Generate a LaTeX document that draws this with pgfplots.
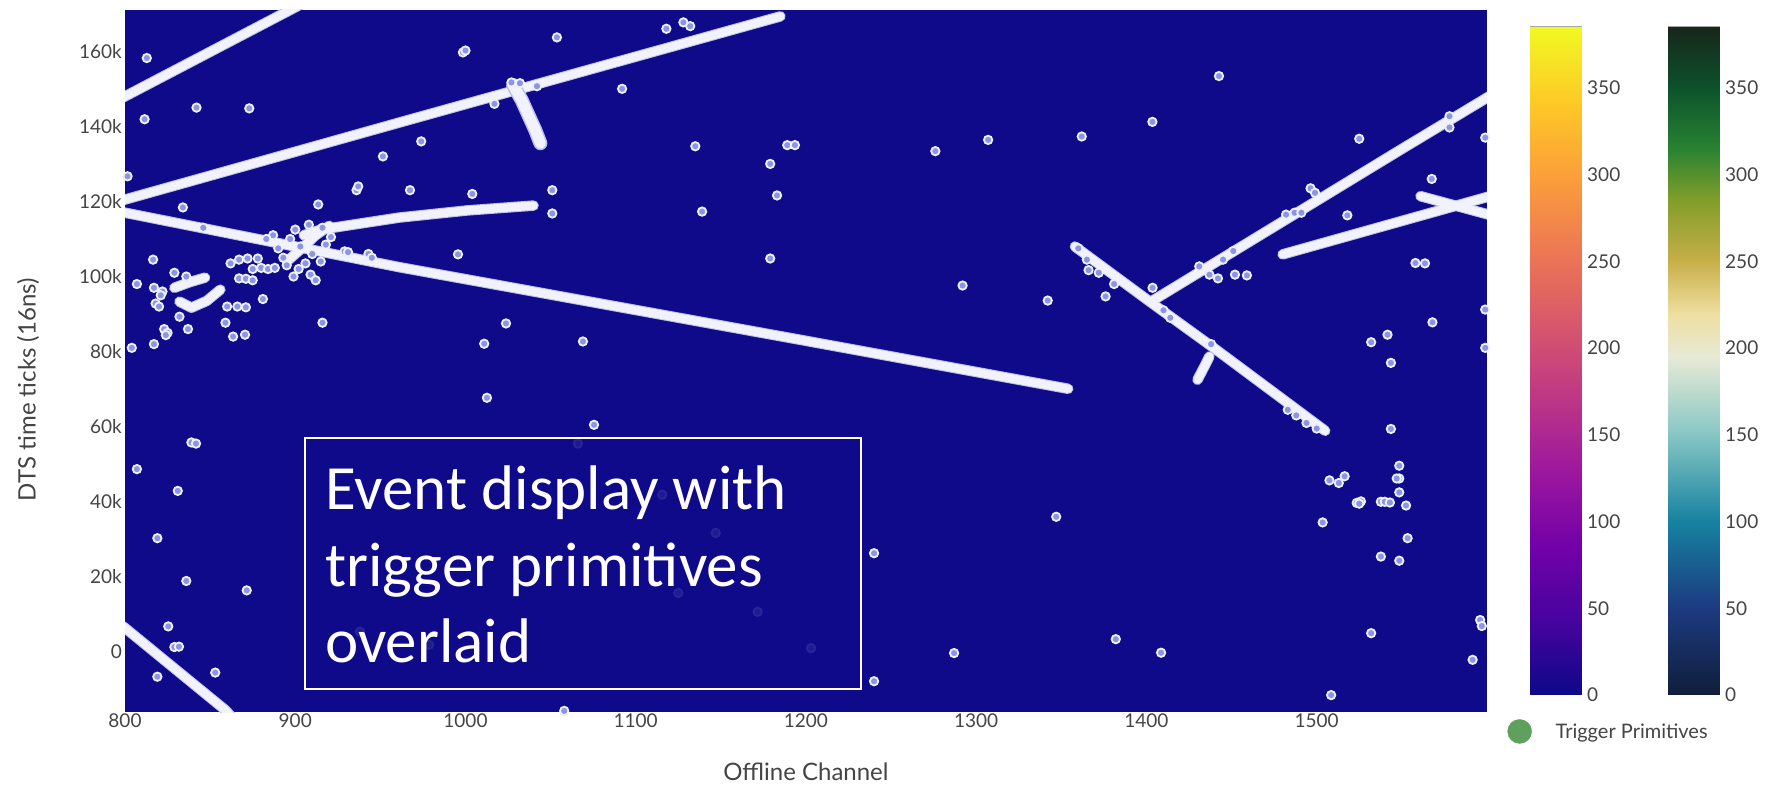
\documentclass[border=0pt]{standalone}
\usepackage{fontspec}
\setmainfont{Lato}
\newfontfamily\boxfont{Carlito}
\usepackage{pgfplots}
\pgfplotsset{compat=1.18}

\definecolor{bgblue}{RGB}{14,10,138}
\definecolor{trk}{RGB}{242,243,250}
\definecolor{trkedge}{RGB}{185,190,238}
\definecolor{tpfill}{RGB}{140,148,230}
\definecolor{tpring}{RGB}{238,240,250}
\definecolor{labgray}{RGB}{68,68,68}
\definecolor{legendgreen}{RGB}{95,160,95}

\pgfplotsset{
  colormap={plasma}{rgb255=(13,8,135) rgb255=(70,3,159) rgb255=(114,1,168) rgb255=(156,23,158) rgb255=(189,55,134) rgb255=(216,87,107) rgb255=(237,121,83) rgb255=(251,159,58) rgb255=(253,202,38) rgb255=(240,249,33)},
  colormap={delta}{rgb255(0pt)=(16,30,58) rgb255(50pt)=(28,58,128) rgb255(100pt)=(22,130,160) rgb255(150pt)=(135,198,196) rgb255(195pt)=(232,234,214) rgb255(220pt)=(238,222,160) rgb255(250pt)=(200,175,72) rgb255(285pt)=(130,158,42) rgb255(315pt)=(40,130,50) rgb255(350pt)=(12,82,44) rgb255(385pt)=(24,38,26)},
  cbar/.style={
    at={(#1,89pt)}, anchor=south west, width=51pt, height=668pt, scale only axis,
    xmin=0, xmax=1, ymin=0, ymax=385,
    xtick=\empty, ytick={0,50,...,350},
    yticklabels={0,50,100,150,200,250,300,350},
    yticklabel pos=right, major tick length=0pt,
    yticklabel style={anchor=west, inner sep=0pt, xshift=6pt,
      font=\fontsize{19}{21}\selectfont, text=labgray},
    axis line style={draw=gray!70, line width=1pt},
    point meta min=0, point meta max=385,
  },
  track/.style={line width=#1, line cap=round, line join=round, forget plot},
  tp/.style={only marks, mark=*, mark size=4.2pt,
    mark options={draw=tpring, fill=tpfill, line width=1.8pt}},
}

% all reconstructed tracks, drawn with the style given as argument
\newcommand\drawtracks[1]{%
  \addplot[#1] coordinates {(795,146800) (905,172900)};
  \addplot[#1] coordinates {(795,119900) (800,120500) (961,141000) (1185,169300)};
  \addplot[#1] coordinates {(795,117400) (800,117000) (961,102500) (1196,83200) (1354,70100)};
  \addplot[#1] coordinates {(905,111000) (915,112500) (961,115700) (1001,117600) (1040,118900)};
  \addplot[#1] coordinates {(1358,108000) (1402,93300) (1441,80500) (1505,58900)};
  \addplot[#1] coordinates {(1403,93400) (1549,133700) (1605,149000)};
  \addplot[#1] coordinates {(1480,105900) (1605,121800)};
  \addplot[#1] coordinates {(1561,121400) (1605,116000)};
  \addplot[#1] coordinates {(795,8000) (800,6400) (859,-15500) (862,-17000)};
  \addplot[#1] coordinates {(829,97000) (838,98500) (847,99700)};
  \addplot[#1] coordinates {(832,93300) (839,91700) (848,93500) (856,96500)};
  \addplot[#1] coordinates {(1430,72500) (1434,76000) (1437,78700)};
  \addplot[#1] coordinates {(895,104000) (905,108000) (912,111000) (920,113500)};
}

\begin{document}
\begin{tikzpicture}
\useasboundingbox (0,0) rectangle (1771pt,784pt);

% ---- event display ----
\begin{axis}[
  at={(125pt,72pt)}, anchor=south west, width=1362pt, height=702pt, scale only axis,
  xmin=800, xmax=1600, ymin=-16000, ymax=171000,
  axis background/.style={fill=bgblue},
  axis line style={draw=none},
  major tick length=0pt,
  xtick={800,900,...,1500}, xticklabels={800,900,1000,1100,1200,1300,1400,1500},
  ytick={0,20000,...,160000}, yticklabels={0,20k,40k,60k,80k,100k,120k,140k,160k},
  scaled y ticks=false,
  tick label style={font=\fontsize{19}{21}\selectfont, text=labgray},
  xticklabel style={anchor=center, inner sep=0pt, yshift=-9pt},
  yticklabel style={anchor=east, inner sep=0pt, xshift=-3pt},
  xlabel={Offline Channel}, ylabel={DTS time ticks (16ns)},
  label style={font=\fontsize{24}{26}\selectfont, text=labgray},
  xlabel style={at={(axis description cs:0.5,-0.0855)}, anchor=center},
  ylabel style={at={(axis description cs:-0.0712,0.459)}, anchor=center},
  legend style={at={(axis description cs:1.0136,-0.0277)}, anchor=west, draw=none,
    fill=none, inner sep=2pt, font=\fontsize{20}{22}\selectfont, text=labgray,
    /tikz/every odd column/.append style={column sep=22pt}},
  legend cell align=left,
]
\addlegendimage{only marks, mark=*, mark size=12pt, legendgreen}
\addlegendentry{Trigger Primitives}

% tracks: halo first, then the bright core
\drawtracks{trkedge, track=10.5pt}
\drawtracks{trk, track=8.5pt}
\addplot[trkedge, track=14pt] coordinates {(1028,151000) (1033,147000) (1037,143000) (1041,139000) (1044,135500)};
\addplot[trk, track=11pt] coordinates {(1028,151000) (1033,147000) (1037,143000) (1041,139000) (1044,135500)};

% isolated trigger primitives
\addplot[tp, forget plot] coordinates {
 (812.8,158200) (811.5,141900) (842,145000) (873,144800) (801.5,126700)
 (834,118400) (846,113000) (913.5,119200) (936,123000) (937,124000)
 (951.5,132000) (929,106700) (931,106500) (943,106000) (945,105000)
 (916,87700) (881,94000) (870.5,84500) (863.5,84000) (859,87700)
 (860,92000) (866,92000) (871,91800) (867,99500) (871,99400) (875,99000)
 (862,103500) (867,104500) (872,104800) (878,104800)
 (875,102000) (880,102300) (884,102000) (888,102300)
 (816.5,104500) (829,101000) (836,100000) (807,98000)
 (817,97000) (822,96000) (821,95000) (818,92800) (820,92000)
 (832,89300) (823,86000) (825,85000) (824,84400) (837,86000) (817,82000) (804,81000)
 (893,105000) (897,110000) (900,112500) (903,108000) (906,103500) (909,100500)
 (912,99000) (915,104000) (910,106000) (918,108500) (921,110500) (899,100000)
 (895,103000) (887,111000) (883,110000) (890,107500) (902,102000) (916,113000) (908,113800)
 (839,55800) (841.7,55500) (807,48700) (831,42900) (819,30300) (836,18900)
 (871.5,16400) (825.4,6800) (829,1300) (831.7,1400) (819,-6600) (853,-5500)
 (938,5400) (978.6,1900) (1066,55500) (1147,31700) (1125,15700) (1171.6,10700)
 (1115.6,41900) (1203,1000)
 (998.5,159700) (1000,160200) (1053.7,163700) (1118,166000) (1128,167700) (1132,166700)
 (1092,150000) (1027,151700) (1032,151500) (1042,150700) (1017,146000) (974,136000)
 (1135,134700) (1189,135000) (1193.5,135000) (1179,130000) (1183,121600) (1139,117300)
 (967.4,123000) (1004,122000) (1051,123000) (1051,116800) (995.6,105900) (1179,104800)
 (1023.8,87500) (1011,82100) (1069,82700) (1012.6,67700) (1075.5,60500) (1058,-15700)
 (1240,26300) (1240,-7800) (1287,-300) (1347,36000) (1382,3400) (1408.6,-200)
 (1276,133400) (1307,136400) (1292,97600) (1362,137300) (1403.5,141200) (1442.6,153400)
 (1342,93600) (1366,101700) (1376,94700) (1403.6,97000)
 (1431,102700) (1437,100500) (1442,99500) (1452,100500) (1459,100300)
 (1496.4,123500) (1499,122300) (1518,116300) (1567.6,126000)
 (1558,103600) (1563.6,103500) (1568,87800) (1541.6,84500) (1532,82500) (1543.6,77000)
 (1543.6,59400) (1599,91200) (1599,81000) (1599,137000) (1525,136700)
 (1578,142700) (1578,139700)
 (1548.5,49600) (1548.5,46200) (1547,46200) (1548.5,42500)
 (1507.5,45700) (1513,45000) (1516.4,46800)
 (1523.5,39700) (1526,40100) (1525,39500)
 (1537.7,40000) (1540,40000) (1543,39800) (1552.5,39000)
 (1503.5,34500) (1553.4,30300) (1537.7,25400) (1548.5,24300)
 (1532,5000) (1591.6,-2100) (1596,8500) (1597,6900) (1508.5,-11500)
 (1360,107500) (1365,104500) (1372,101000) (1381,98000) (1410,91000) (1414,89000)
 (1438,82000) (1483,64500) (1488,63000) (1494,61000) (1500,59500)
 (1482,116500) (1487,117000) (1491,117000) (1451,106800) (1445,104500)
};
\end{axis}

% ---- colour scales ----
\begin{axis}[cbar=1530pt, colormap name=plasma]
\addplot[surf, shader=interp, mesh/cols=2, point meta=y] coordinates {(0,0) (1,0) (0,385) (1,385)};
\end{axis}
\begin{axis}[cbar=1668pt, colormap name=delta]
\addplot[surf, shader=interp, mesh/cols=2, point meta=y] coordinates {(0,0) (1,0) (0,385) (1,385)};
\end{axis}

% ---- caption box ----
\draw[white, line width=2pt, fill=bgblue, fill opacity=0.88] (305pt,95pt) rectangle (861pt,346pt);
\node[anchor=base west, inner sep=0pt, text=white, font=\boxfont\fontsize{63}{76}\selectfont] at (325pt,274pt) {Event display with};
\node[anchor=base west, inner sep=0pt, text=white, font=\boxfont\fontsize{63}{76}\selectfont] at (325pt,197pt) {trigger primitives};
\node[anchor=base west, inner sep=0pt, text=white, font=\boxfont\fontsize{63}{76}\selectfont] at (325pt,121pt) {overlaid};
\end{tikzpicture}
\end{document}
